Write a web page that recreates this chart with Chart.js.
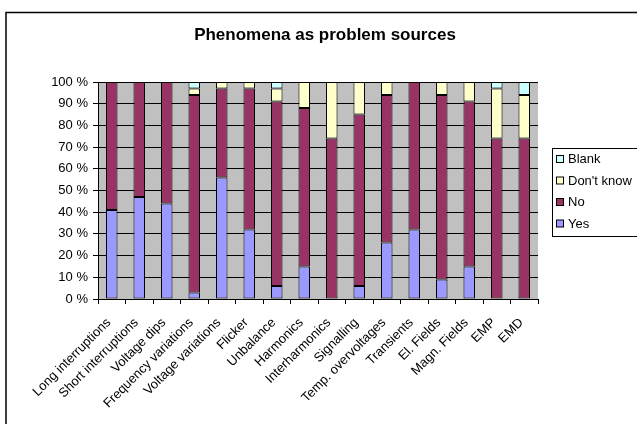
<!DOCTYPE html>
<html>
<head>
<meta charset="utf-8">
<script src="https://cdn.jsdelivr.net/npm/chart.js@4/dist/chart.umd.min.js"></script>
<style>
  html, body { margin: 0; padding: 0; background: #fff; }
  canvas { display: block; }
</style>
</head>
<body>
<canvas id="chart" width="637" height="424"></canvas>
<script>
// Survey answers per phenomenon, in percent of respondents
const categories = [
  'Long interruptions', 'Short interruptions', 'Voltage dips', 'Frequency variations',
  'Voltage variations', 'Flicker', 'Unbalance', 'Harmonics', 'Interharmonics',
  'Signalling', 'Temp. overvoltages', 'Transients', 'El. Fields', 'Magn. Fields',
  'EMP', 'EMD'
];
const yesValues       = [41, 47, 44,  3, 56, 32,  6, 15,  0,  6, 26, 32,  9, 15,  0,  0];
const noValues        = [59, 53, 56, 91, 41, 65, 85, 73, 74, 79, 68, 68, 85, 76, 74, 74];
const dontKnowValues  = [ 0,  0,  0,  3,  3,  3,  6, 12, 26, 15,  6,  0,  6,  9, 23, 20];
const blankValues     = [ 0,  0,  0,  3,  0,  0,  3,  0,  0,  0,  0,  0,  0,  0,  3,  6];
const yTickValues     = [0, 10, 20, 30, 40, 50, 60, 70, 80, 90, 100];

const FONT = "'Liberation Sans', Arial, sans-serif";
const chartTitle = 'Phenomena as problem sources';

// zero-height segments are left out so they draw no border line
const seg = arr => arr.map(v => (v === 0 ? null : v));

function series(label, values, color) {
  return {
    label,
    data: seg(values),
    backgroundColor: color,
    borderColor: '#000',
    borderWidth: 1,
    borderSkipped: false,
    inflateAmount: 0,
    barPercentage: 0.42,
    categoryPercentage: 1.0
  };
}

const decorations = {
  id: 'decorations',
  beforeDraw(chart) {
    const { ctx, chartArea: a } = chart;
    ctx.save();
    ctx.fillStyle = '#fff';
    ctx.fillRect(0, 0, chart.width, chart.height);
    // outer chart frame
    ctx.strokeStyle = '#000';
    ctx.lineWidth = 1.5;
    ctx.strokeRect(6, 12.5, 700, 500);
    // plot area background
    ctx.fillStyle = '#C0C0C0';
    ctx.fillRect(a.left, a.top, a.right - a.left, a.bottom - a.top);
    ctx.restore();
  },
  afterDraw(chart) {
    const ctx = chart.ctx;
    ctx.save();
    // title
    ctx.fillStyle = '#000';
    ctx.font = 'bold 17px ' + FONT;
    ctx.textAlign = 'center';
    ctx.textBaseline = 'middle';
    ctx.fillText(chartTitle, 325, 35);

    // legend box (top series first)
    const boxL = 552.5, boxT = 148.5, boxB = 236.5;
    ctx.fillStyle = '#fff';
    ctx.fillRect(boxL, boxT, 700, boxB - boxT);
    ctx.strokeStyle = '#000';
    ctx.lineWidth = 1;
    ctx.strokeRect(boxL, boxT, 700, boxB - boxT);
    const items = chart.data.datasets.slice().reverse();
    ctx.font = '13px ' + FONT;
    ctx.textAlign = 'left';
    items.forEach((ds, i) => {
      const cy = 159 + i * 21.5;
      ctx.fillStyle = ds.backgroundColor;
      ctx.fillRect(556.5, cy - 3.5, 7, 7);
      ctx.strokeStyle = '#000';
      ctx.strokeRect(556.5, cy - 3.5, 7, 7);
      ctx.fillStyle = '#000';
      ctx.fillText(ds.label, 568, cy + 0.5);
    });
    ctx.restore();
  }
};

new Chart(document.getElementById('chart'), {
  type: 'bar',
  data: {
    labels: categories,
    datasets: [
      series('Yes', yesValues, '#9999FF'),
      series('No', noValues, '#993366'),
      series("Don't know", dontKnowValues, '#FFFFCC'),
      series('Blank', blankValues, '#CCFFFF')
    ]
  },
  options: {
    responsive: false,
    animation: false,
    devicePixelRatio: 1,
    layout: { padding: { left: 0, top: 82, right: 99, bottom: 0 } },
    plugins: {
      legend: { display: false },
      title: { display: false },
      tooltip: { enabled: false }
    },
    scales: {
      x: {
        stacked: true,
        offset: true,
        grid: {
          offset: true,
          drawOnChartArea: false,
          drawTicks: true,
          tickLength: 5,
          color: '#000'
        },
        border: { display: true, color: '#000', width: 1 },
        ticks: {
          autoSkip: false,
          minRotation: 45,
          maxRotation: 45,
          padding: 11,
          labelOffset: -3,
          color: '#000',
          font: { family: FONT, size: 13 }
        },
        afterFit(scale) { scale.height = 125; }
      },
      y: {
        stacked: true,
        min: 0,
        max: 100,
        afterBuildTicks(scale) { scale.ticks = yTickValues.map(v => ({ value: v })); },
        grid: {
          color: '#000',
          lineWidth: 1,
          drawTicks: true,
          tickLength: 5
        },
        border: { display: true, color: '#000', width: 1 },
        ticks: {
          padding: 5,
          color: '#000',
          font: { family: FONT, size: 13 },
          callback: v => v + ' %'
        },
        afterFit(scale) { scale.width = 98; }
      }
    }
  },
  plugins: [decorations]
});
</script>
</body>
</html>
